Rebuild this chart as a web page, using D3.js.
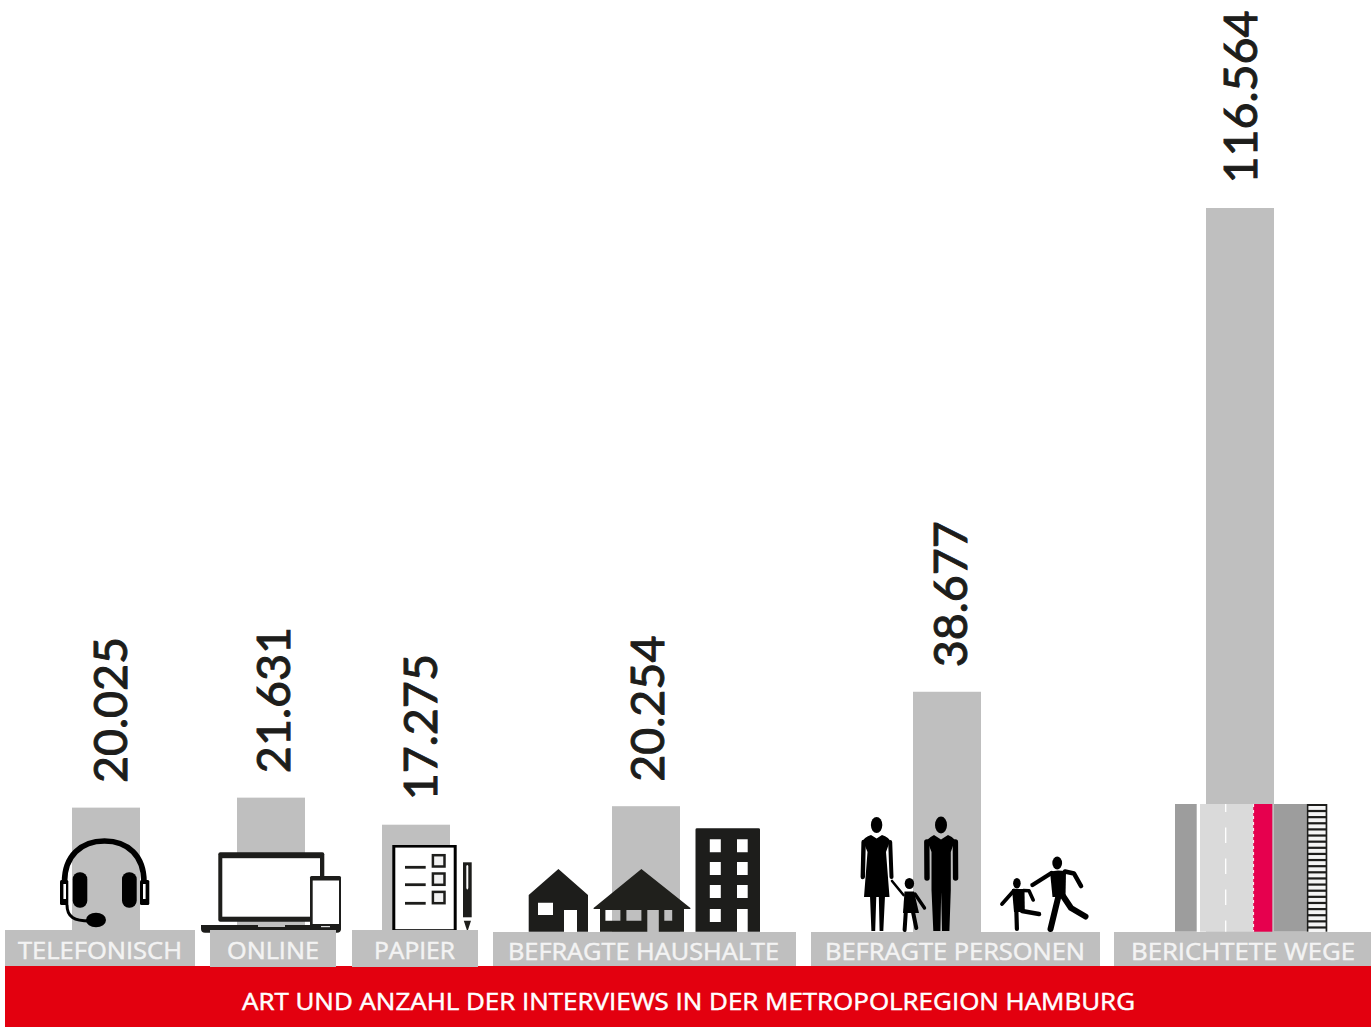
<!DOCTYPE html>
<html>
<head>
<meta charset="utf-8">
<script src="https://cdn.jsdelivr.net/npm/d3@7"></script>
<style>
  html, body { margin: 0; padding: 0; background: #fff; }
  svg { display: block; }
  text { font-family: "Open Sans", sans-serif; }
</style>
</head>
<body>
<svg id="chart" width="1371" height="1027"></svg>
<script>
// data
const categories = ['TELEFONISCH', 'ONLINE', 'PAPIER', 'BEFRAGTE HAUSHALTE', 'BEFRAGTE PERSONEN', 'BERICHTETE WEGE'];
const interviews = [20025, 21631, 17275, 20254, 38677, 116564];
const caption = 'ART UND ANZAHL DER INTERVIEWS IN DER METROPOLREGION HAMBURG';

// layout
const barLeft = [72, 237, 382, 612, 913, 1206];
const valueBaseX = [127, 290, 437, 664, 967, 1257];
const boxes = [[5, 190, 930, 36], [210, 126, 930, 37], [352, 126, 930, 37], [493, 303, 932, 34], [811, 289, 932, 34], [1114, 257, 932, 34]];
const labelSpans = [[18, 164, 958.5], [227, 92, 958.5], [374, 81, 958.5], [508, 271, 959.5], [825, 260, 959.5], [1131, 224, 959.5]];

const GREY = '#bfbfbf', RED = '#e3000f', INK = '#1d1d1b';

const svg = d3.select('#chart');
const de = d3.formatLocale({ decimal: ',', thousands: '.', grouping: [3], currency: ['', '€'] });
const fmt = de.format(',');

const y = d3.scaleLinear().domain([0, 116564]).range([932, 208]);
const x = d3.scaleOrdinal().domain(categories).range(barLeft);

const rows = categories.map((c, i) => ({ c, v: interviews[i], i }));

svg.append('g').selectAll('rect').data(rows).join('rect')
  .attr('x', d => x(d.c))
  .attr('y', d => y(d.v))
  .attr('width', 68)
  .attr('height', d => y(0) - y(d.v))
  .attr('fill', GREY);

svg.append('g').selectAll('text').data(rows).join('text')
  .attr('transform', d => `translate(${valueBaseX[d.i]},${y(d.v) - 24.5}) rotate(-90)`)
  .style('font-family', 'Lato, sans-serif')
  .attr('font-size', 46.6)
  .attr('fill', INK)
  .attr('stroke', INK)
  .attr('stroke-width', 1)
  .text(d => fmt(d.v));

// pictograms
const icons = svg.append('g');
const fill = (d, c = '#000') => icons.append('path').attr('d', d).attr('fill', c).attr('fill-rule', 'evenodd');
const line = (d, w, c = '#000', cap = 'round') => icons.append('path').attr('d', d).attr('fill', 'none')
  .attr('stroke', c).attr('stroke-width', w).attr('stroke-linecap', cap).attr('stroke-linejoin', 'round');
const box = (x0, y0, w, h, c, r = 0) => icons.append('rect').attr('x', x0).attr('y', y0).attr('width', w).attr('height', h).attr('rx', r).attr('fill', c);
const head = (cx, cy, rx, ry) => icons.append('ellipse').attr('cx', cx).attr('cy', cy).attr('rx', rx).attr('ry', ry).attr('fill', '#000');

// headset
line('M64.5 882C64.5 856 81 841 104.5 841C128 841 144 856 144 882', 5.6);
box(72.7, 872.3, 14.6, 35.4, '#000', 7);
box(122, 872.3, 14.7, 35.4, '#000', 7);
box(60, 880, 8.3, 25, '#000', 1.5);
box(140, 880, 9.3, 25, '#000', 1.5);
box(63.4, 884, 2.6, 15, '#fff');
box(143, 884, 2.6, 15, '#fff');
line('M67 905C67 917 74 921 90 921', 3);
head(96, 920, 10, 7.3);

// laptop and phone
box(218.3, 852.3, 106, 69.4, INK, 2);
box(222.3, 858.2, 97.7, 58.5, '#fff');
fill('M201 925H341V929Q341 932.7 337 932.7H205Q201 932.7 201 929Z', INK);
box(258, 925, 27, 2, GREY);
box(310, 876, 31, 54, INK, 1.5);
box(312.7, 880.5, 26.3, 43.5, '#fff');
box(321, 926, 9, 1.2, '#ddd');

// questionnaire and pen
box(392.3, 845, 64.4, 86.7, '#000');
box(395.3, 847.6, 58.4, 81.6, '#fff');
[867.3, 884.7, 903.3].forEach(ly => line(`M405 ${ly}H425.7`, 2.8, INK, 'butt'));
[854, 872.3, 890.7].forEach(by => {
  icons.append('rect').attr('x', 432.9).attr('y', by + 1.2).attr('width', 11.6).attr('height', 11.3)
    .attr('fill', '#f2f2f2').attr('stroke', INK).attr('stroke-width', 2.5);
});
fill('M463 862.3H471.7V917.3H463Z', INK);
fill('M466.3 866Q467.3 863.8 468.3 866V888Q467.3 891 466.3 888Z', '#fff');
fill('M463.8 920.7H471L467.4 931.7Z', INK);

// houses
fill('M528.7 895L558.4 869L588 895V931.7H528.7ZM538 902.7V915H553V902.7ZM564 910V931.7H577V910Z', INK);
fill('M641.4 869L690.4 908V909H684V931.7H600V909H593.6V908Z' +
     'M605.4 910V920.7H620.4V910ZM626.4 910V920.7H641.4V910ZM647.3 910V931.7H658.8V910ZM664.3 910V920.7H672.2V910Z', '#20201c');
let tower = 'M695.5 829.5Q695.5 828.3 697 828.3H758.5Q760 828.3 760 829.5V931.7H695.5Z';
[839.3, 862, 885, 909].forEach(wy => {
  tower += `M709.8 ${wy}V${wy + 13}H720.8V${wy}Z`;
  if (wy < 900) tower += `M737 ${wy}V${wy + 13}H747.7V${wy}Z`;
});
tower += 'M737 909V931.7H747.7V909Z';
fill(tower, INK);

// family
head(876.6, 825, 5.7, 8);
fill('M863 841Q864 837.5 871 835L876.6 838.5L882 835Q889 837.5 890 841L886 852L889.5 897H864L867.5 852Z');
line('M863.6 842L862.8 877', 4.4);
line('M890.2 842L891.5 877', 4);
fill('M870 896H876.3L875.2 931H871.4ZM878.8 896H885L883.3 931H879.6Z');
head(941, 825, 6, 8.5);
fill('M927 840Q930 837 934 835L941 839.5L948 835Q953 837 955 840L950.8 852V890L949.4 931H942L941.2 892L940.4 931H933.3L931.5 890V852Z');
line('M926.8 842L927 878', 5.4);
line('M955.4 842L955.6 878', 5.4);
head(909.4, 883.5, 4.7, 5.6);
line('M892 881L903.5 895', 2.6);
fill('M904.5 891.5H914L919 913H903Z');
line('M915 894L924.5 908', 3.4);
line('M905.8 912L904.6 930', 4);
line('M913 912L916.3 928', 4);
head(1016.9, 883.3, 3.8, 5.2);
fill('M1012 889H1024.5L1024.8 912H1014Z');
line('M1014 890.5L1002 904', 3.8);
line('M1023.5 890.5L1029 890.8L1033.2 900', 3.6);
line('M1016.3 909L1016.9 929', 4.2);
line('M1022 911L1039 914', 4.4);
head(1057.2, 863, 4.9, 6.5);
fill('M1050 871.5L1058 870.5L1066 871L1065.5 897H1052.5Z');
line('M1051.5 873L1032.5 885', 4.4);
line('M1065 871.5L1074 873.5L1081 886', 4.6);
line('M1058.5 896L1050.5 929', 6);
line('M1063 896L1071 908L1085.5 916.5', 6);

// street section
box(1175, 804, 21.7, 127.7, '#9d9d9d');
box(1200, 804, 53.3, 127.7, '#dadada');
icons.append('line').attr('x1', 1225.7).attr('x2', 1225.7).attr('y1', 804).attr('y2', 931.7)
  .attr('stroke', '#fff').attr('stroke-width', 1.3).attr('stroke-dasharray', '15.5 15.5').attr('stroke-dashoffset', 7.5);
box(1253.3, 804, 19, 127.7, '#e6004e');
icons.append('line').attr('x1', 1253.6).attr('x2', 1253.6).attr('y1', 804).attr('y2', 931.7)
  .attr('stroke', '#fff').attr('stroke-width', 1).attr('stroke-dasharray', '3 3');
box(1274, 804, 32.7, 127.7, '#9d9d9d');
box(1306.7, 804, 20.6, 127.7, INK);
d3.range(21).forEach(k => box(1308.4, 806 + k * 6.13, 17.2, 3.9, '#f4f4f4'));

// label boxes and caption band
svg.append('rect').attr('x', 5).attr('y', 966).attr('width', 1366).attr('height', 61).attr('fill', RED);

svg.append('g').selectAll('rect').data(boxes).join('rect')
  .attr('x', d => d[0]).attr('y', d => d[2]).attr('width', d => d[1]).attr('height', d => d[3])
  .attr('fill', GREY);

svg.append('g').selectAll('text').data(categories).join('text')
  .attr('x', (d, i) => labelSpans[i][0])
  .attr('y', (d, i) => labelSpans[i][2])
  .attr('textLength', (d, i) => labelSpans[i][1])
  .attr('lengthAdjust', 'spacingAndGlyphs')
  .attr('font-size', 24.5)
  .attr('fill', '#f3f3f3')
  .attr('stroke', '#f3f3f3')
  .attr('stroke-width', 0.5)
  .text(d => d);

svg.append('text')
  .attr('x', 242).attr('y', 1010)
  .attr('textLength', 893)
  .attr('lengthAdjust', 'spacingAndGlyphs')
  .attr('font-size', 24)
  .attr('fill', '#fff')
  .attr('stroke', '#fff')
  .attr('stroke-width', 0.5)
  .text(caption);
</script>
</body>
</html>
